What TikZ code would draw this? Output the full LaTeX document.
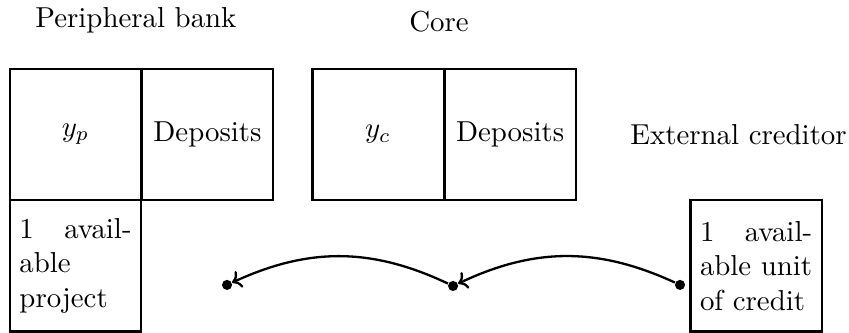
\documentclass[tikz,border=0pt]{standalone}
\usepackage{amsmath,amssymb}
\usepackage{tikz}
\usetikzlibrary{positioning,calc}
\usetikzlibrary{arrows.meta}
\tikzset{
  acct/.style={draw=black,thick,minimum width=1.6cm,minimum height=1.6cm,inner sep=0pt},
  asset/.style={draw=black,thick,minimum width=1.6cm,minimum height=1.6cm,
    text width=1.6cm-6.67pt,align=justify,inner sep=3.33pt},
  title/.style={anchor=base},
  dot/.style={circle,fill=black,inner sep=0pt,minimum size=3.5pt},
  flow/.style={draw=black,thick,-{To[length=3pt]}},
}

\begin{document}
\begin{tikzpicture}[scale=1]
\useasboundingbox (0,0) rectangle (10.34,4.055);
\coordinate (cyp) at (0.920,2.418);
\coordinate (cdp) at (2.527,2.418);
\coordinate (cyc) at (4.604,2.418);
\coordinate (cdc) at (6.212,2.418);
\coordinate (cproj) at (0.920,0.816);
\coordinate (ccred) at (9.208,0.816);
\node[title] (tper) at (1.656,3.715) {Peripheral bank};
\node[title] (tcore) at (5.347,3.666) {Core};
\node[title] (text) at (8.995,2.290) {External creditor};
\node[acct] (yp) at (cyp) {$y_p$};
\node[acct] (dp) at (cdp) {Deposits};
\node[acct] (yc) at (cyc) {$y_c$};
\node[acct] (dc) at (cdc) {Deposits};
\node[asset] (proj) at (cproj) {1 available project};
\node[asset] (cred) at (ccred) {1 available unit of credit};
\node[dot] (d1) at (2.765,0.585) {};
\node[dot] (d2) at (5.518,0.572) {};
\node[dot] (d3) at (8.282,0.585) {};
\draw[flow] (d3) to[bend right=25] (d2);
\draw[flow] (d2) to[bend right=25] (d1);
\end{tikzpicture}
\end{document}
